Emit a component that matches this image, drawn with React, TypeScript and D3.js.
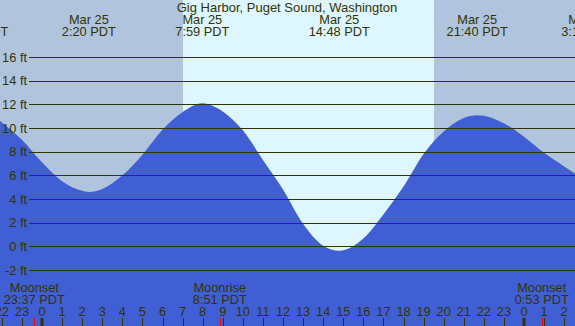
import React from 'react';
import * as d3 from 'd3';

// tide readings, hours from Mar 25 00:00 PDT
const tideHours = [-2.09, -1, 0, 1, 2, 2.33, 3, 4, 5, 6, 7, 7.98, 9, 10, 11, 12, 13, 14, 14.8, 16, 17, 18, 19, 20, 21, 21.67, 23, 24, 25, 26, 26.54];
const tideFeet = [10.6, 9.0, 7.1, 5.5, 4.7, 4.6, 4.85, 6.0, 7.75, 9.85, 11.35, 12.1, 11.4, 9.8, 7.3, 4.8, 1.9, 0.05, -0.37, 0.66, 2.7, 5.05, 7.8, 9.7, 10.85, 11.08, 10.4, 9.27, 7.9, 6.75, 6.16];

const eventHours = [-3.2, 2.333, 7.983, 14.8, 21.667, 27.2];
const eventDates = ['Mar 24', 'Mar 25', 'Mar 25', 'Mar 25', 'Mar 25', 'Mar 26'];
const eventTimes = ['20:48 PDT', '2:20 PDT', '7:59 PDT', '14:48 PDT', '21:40 PDT', '3:12 PDT'];

const moonHours = [-0.383, 8.85, 24.883];
const moonNames = ['Moonset', 'Moonrise', 'Moonset'];
const moonTimes = ['23:37 PDT', '8:51 PDT', '0:53 PDT'];

const sunrise = 7.02;
const sunset = 19.52;

const feetTicks = [-2, 0, 2, 4, 6, 8, 10, 12, 14, 16];
const hourTicks = d3.range(-2, 27);

const W = 575;
const H = 326;
const ink = '#333300';
const font = '"Liberation Sans", Arial, sans-serif';

export default function App() {
  const x = d3.scaleLinear().domain([0, 24]).range([42, 524]);
  const y = d3.scaleLinear().domain([-2, 16]).range([270, 57]);

  const pts = tideHours.map((h, i) => [h, tideFeet[i]] as [number, number]);
  const area = d3
    .area<[number, number]>()
    .x((d) => x(d[0]))
    .y0(H)
    .y1((d) => y(d[1]))
    .curve(d3.curveMonotoneX);

  return (
    <>
      <style>{'body{margin:0}'}</style>
      <svg width={W} height={H} style={{ display: 'block' }} fontFamily={font} fontSize={12.8}>
        <rect x={0} y={0} width={W} height={H} fill="#b0c4de" />
        <rect x={x(sunrise)} y={0} width={x(sunset) - x(sunrise)} height={H} fill="#ddf6ff" />
        <path d={area(pts) || ''} fill="#415fd4" />

        {feetTicks.map((f) => (
          <g key={f}>
            <line x1={29} x2={W} y1={Math.round(y(f)) + 0.5} y2={Math.round(y(f)) + 0.5} stroke={ink} />
            <text x={27} y={y(f) + 4.5} textAnchor="end" fill={ink}>
              {f} ft
            </text>
          </g>
        ))}

        <text x={287} y={12} textAnchor="middle" fill={ink} fontSize={13}>
          Gig Harbor, Puget Sound, Washington
        </text>

        {eventHours.map((h, i) => (
          <g key={i} fill={ink} textAnchor="middle">
            <text x={x(h)} y={24}>{eventDates[i]}</text>
            <text x={x(h)} y={36}>{eventTimes[i]}</text>
          </g>
        ))}

        {moonHours.map((h, i) => (
          <g key={i} fill={ink} textAnchor="middle">
            <text x={x(h)} y={292}>{moonNames[i]}</text>
            <text x={x(h)} y={304}>{moonTimes[i]}</text>
            <line x1={Math.round(x(h)) + 0.5} x2={Math.round(x(h)) + 0.5} y1={318} y2={H} stroke="#ff0000" />
          </g>
        ))}

        {hourTicks.map((h) => {
          const mid = ((h % 24) + 24) % 24 === 0;
          return (
            <g key={h}>
              <text x={x(h)} y={316} textAnchor="middle" fill={ink}>
                {((h % 24) + 24) % 24}
              </text>
              <line
                x1={Math.round(x(h)) + (mid ? 0 : 0.5)}
                x2={Math.round(x(h)) + (mid ? 0 : 0.5)}
                y1={318}
                y2={H}
                stroke={ink}
                strokeWidth={mid ? 3 : 1}
              />
            </g>
          );
        })}
      </svg>
    </>
  );
}
